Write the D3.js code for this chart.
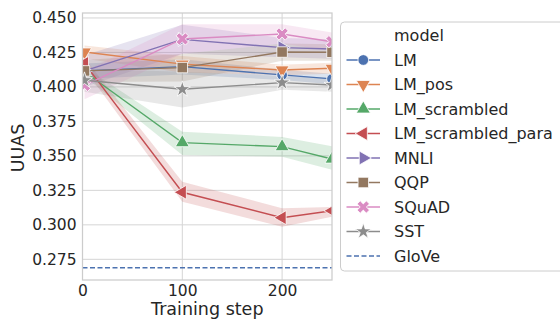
<!DOCTYPE html>
<html>
<head>
<meta charset="utf-8">
<script src="https://d3js.org/d3.v7.min.js"></script>
<style>
body { margin: 0; background: #fff; }
svg { font-family: "DejaVu Sans", sans-serif; }
</style>
</head>
<body>
<script>
// data
var steps = [2, 100, 200, 250];
var models = ["LM", "LM_pos", "LM_scrambled", "LM_scrambled_para", "MNLI", "QQP", "SQuAD", "SST"];
var colors = ["#4C72B0", "#DD8452", "#55A868", "#C44E52", "#8172B3", "#937860", "#DA8BC3", "#8C8C8C"];
var markers = ["circle", "tridown", "triup", "trileft", "triright", "square", "x", "star"];

var meanLM = [0.4116, 0.4147, 0.4087, 0.4058];
var loLM = [0.4060, 0.4090, 0.4050, 0.4020];
var hiLM = [0.4170, 0.4200, 0.4125, 0.4095];

var meanLMpos = [0.4253, 0.4165, 0.4123, 0.4135];
var loLMpos = [0.4205, 0.4105, 0.4085, 0.4095];
var hiLMpos = [0.4300, 0.4225, 0.4160, 0.4175];

var meanScr = [0.4110, 0.3596, 0.3567, 0.3477];
var loScr = [0.4075, 0.3506, 0.3494, 0.3400];
var hiScr = [0.4145, 0.3675, 0.3637, 0.3570];

var meanPara = [0.4171, 0.3236, 0.3052, 0.3102];
var loPara = [0.4130, 0.3168, 0.2986, 0.3059];
var hiPara = [0.4210, 0.3313, 0.3120, 0.3129];

var meanMNLI = [0.4116, 0.4345, 0.4285, 0.4275];
var loMNLI = [0.4000, 0.4240, 0.4215, 0.4205];
var hiMNLI = [0.4230, 0.4450, 0.4355, 0.4345];

var meanQQP = [0.4116, 0.4140, 0.4253, 0.4251];
var loQQP = [0.4035, 0.4040, 0.4190, 0.4190];
var hiQQP = [0.4195, 0.4240, 0.4315, 0.4310];

var meanSQuAD = [0.4012, 0.4348, 0.4384, 0.4328];
var loSQuAD = [0.3910, 0.4240, 0.4315, 0.4260];
var hiSQuAD = [0.4115, 0.4455, 0.4455, 0.4395];

var meanSST = [0.4048, 0.3983, 0.4031, 0.4014];
var loSST = [0.3965, 0.3850, 0.3980, 0.3965];
var hiSST = [0.4130, 0.4110, 0.4080, 0.4065];

var means = [meanLM, meanLMpos, meanScr, meanPara, meanMNLI, meanQQP, meanSQuAD, meanSST];
var lows = [loLM, loLMpos, loScr, loPara, loMNLI, loQQP, loSQuAD, loSST];
var highs = [hiLM, hiLMpos, hiScr, hiPara, hiMNLI, hiQQP, hiSQuAD, hiSST];

var glove = 0.2689;
var xTicks = [0, 100, 200];
var yTicks = [0.275, 0.300, 0.325, 0.350, 0.375, 0.400, 0.425, 0.450];

var W = 560, H = 321;
var pLeft = 82.5, pRight = 332, pTop = 13, pBottom = 280;

var svg = d3.select("body").append("svg")
    .attr("width", W)
    .attr("height", H);

var x = d3.scaleLinear().domain([0, 250]).range([pLeft, pRight]);
var y = d3.scaleLinear().domain([0.2600, 0.4536]).range([pBottom, pTop]);

svg.append("defs").append("clipPath").attr("id", "plotclip")
   .append("rect")
   .attr("x", pLeft).attr("y", pTop)
   .attr("width", pRight - pLeft).attr("height", pBottom - pTop);

// grid
svg.append("g").selectAll("line").data(yTicks).enter().append("line")
   .attr("x1", pLeft).attr("x2", pRight)
   .attr("y1", function(d) { return y(d); })
   .attr("y2", function(d) { return y(d); })
   .attr("stroke", "#d5d5d5").attr("stroke-width", 1);
svg.append("g").selectAll("line").data(xTicks).enter().append("line")
   .attr("y1", pTop).attr("y2", pBottom)
   .attr("x1", function(d) { return x(d); })
   .attr("x2", function(d) { return x(d); })
   .attr("stroke", "#d5d5d5").attr("stroke-width", 1);

function markerPath(kind, size) {
    var s;
    if (kind == "circle") s = d3.symbol(d3.symbolCircle, size * 0.9);
    else if (kind == "square") s = d3.symbol(d3.symbolSquare, size * 1.1);
    else if (kind == "x") s = d3.symbol(d3.symbolCross, size * 0.95);
    else if (kind == "star") s = d3.symbol(d3.symbolStar, size * 0.8);
    else s = d3.symbol(d3.symbolTriangle, size * 0.85);
    return s();
}
function markerRotate(kind) {
    if (kind == "tridown") return 180;
    if (kind == "trileft") return -90;
    if (kind == "triright") return 90;
    if (kind == "x") return 45;
    return 0;
}

var plot = svg.append("g").attr("clip-path", "url(#plotclip)");

var area = d3.area()
    .x(function(d) { return x(d.s); })
    .y0(function(d) { return y(d.lo); })
    .y1(function(d) { return y(d.hi); });
var line = d3.line()
    .x(function(d) { return x(d.s); })
    .y(function(d) { return y(d.m); });

models.forEach(function(name, i) {
    var pts = steps.map(function(s, j) {
        return { s: s, m: means[i][j], lo: lows[i][j], hi: highs[i][j] };
    });
    plot.append("path").datum(pts)
        .attr("d", area)
        .attr("fill", colors[i])
        .attr("fill-opacity", 0.2)
        .attr("stroke", "none");
});

models.forEach(function(name, i) {
    var pts = steps.map(function(s, j) {
        return { s: s, m: means[i][j] };
    });
    var g = plot.append("g");
    g.append("path").datum(pts)
        .attr("d", line)
        .attr("fill", "none")
        .attr("stroke", colors[i])
        .attr("stroke-width", 1.4);
    g.selectAll("path.mk").data(pts).enter().append("path")
        .attr("class", "mk")
        .attr("d", markerPath(markers[i], 100))
        .attr("transform", function(d) {
            return "translate(" + x(d.s) + "," + y(d.m) + ") rotate(" + markerRotate(markers[i]) + ")";
        })
        .attr("fill", colors[i])
        .attr("stroke", "#fff")
        .attr("stroke-width", 0.8);
});

// GloVe baseline
plot.append("line")
    .attr("x1", pLeft).attr("x2", pRight)
    .attr("y1", y(glove)).attr("y2", y(glove))
    .attr("stroke", "#4C72B0")
    .attr("stroke-width", 1.4)
    .attr("stroke-dasharray", "5,2.5");

// spines
svg.append("rect")
   .attr("x", pLeft).attr("y", pTop)
   .attr("width", pRight - pLeft).attr("height", pBottom - pTop)
   .attr("fill", "none")
   .attr("stroke", "#cccccc")
   .attr("stroke-width", 1.25);

// axes
var yAxis = svg.append("g")
    .attr("transform", "translate(" + pLeft + ",0)")
    .call(d3.axisLeft(y).tickValues(yTicks).tickFormat(d3.format(".3f")).tickSize(0).tickPadding(6));
var xAxis = svg.append("g")
    .attr("transform", "translate(0," + pBottom + ")")
    .call(d3.axisBottom(x).tickValues(xTicks).tickFormat(d3.format("d")).tickSize(0).tickPadding(5));
[yAxis, xAxis].forEach(function(a) {
    a.select(".domain").remove();
    a.selectAll("text")
     .attr("fill", "#262626")
     .style("font-size", "15.5px")
     .style("font-family", "DejaVu Sans");
});

svg.append("text")
   .attr("x", (pLeft + pRight) / 2)
   .attr("y", 315)
   .attr("text-anchor", "middle")
   .attr("fill", "#262626")
   .style("font-size", "17.5px")
   .text("Training step");

svg.append("text")
   .attr("transform", "translate(24,148) rotate(-90)")
   .attr("text-anchor", "middle")
   .attr("fill", "#262626")
   .style("font-size", "17.5px")
   .text("UUAS");

// legend
var leg = svg.append("g");
leg.append("rect")
   .attr("x", 340.5).attr("y", 22)
   .attr("width", 240).attr("height", 249)
   .attr("rx", 4).attr("ry", 4)
   .attr("fill", "#fff").attr("fill-opacity", 0.8)
   .attr("stroke", "#cccccc").attr("stroke-width", 1);

leg.append("text")
   .attr("x", 394).attr("y", 35).attr("dy", "0.36em")
   .attr("fill", "#262626")
   .style("font-size", "16px")
   .text("model");

var rowH = 24.5;
models.forEach(function(name, i) {
    var ry = 60 + i * rowH;
    leg.append("line")
       .attr("x1", 346.5).attr("x2", 380)
       .attr("y1", ry).attr("y2", ry)
       .attr("stroke", colors[i]).attr("stroke-width", 1.4);
    leg.append("path")
       .attr("d", markerPath(markers[i], 100))
       .attr("transform", "translate(363.3," + ry + ") rotate(" + markerRotate(markers[i]) + ")")
       .attr("fill", colors[i])
       .attr("stroke", "#fff")
       .attr("stroke-width", 0.8);
    leg.append("text")
       .attr("x", 394).attr("y", ry).attr("dy", "0.36em")
       .attr("fill", "#262626")
       .style("font-size", "16px")
       .text(name);
});
var gy = 60 + models.length * rowH;
leg.append("line")
   .attr("x1", 346.5).attr("x2", 380)
   .attr("y1", gy).attr("y2", gy)
   .attr("stroke", "#4C72B0").attr("stroke-width", 1.4)
   .attr("stroke-dasharray", "5,2.5");
leg.append("text")
   .attr("x", 394).attr("y", gy).attr("dy", "0.36em")
   .attr("fill", "#262626")
   .style("font-size", "16px")
   .text("GloVe");
</script>
</body>
</html>
